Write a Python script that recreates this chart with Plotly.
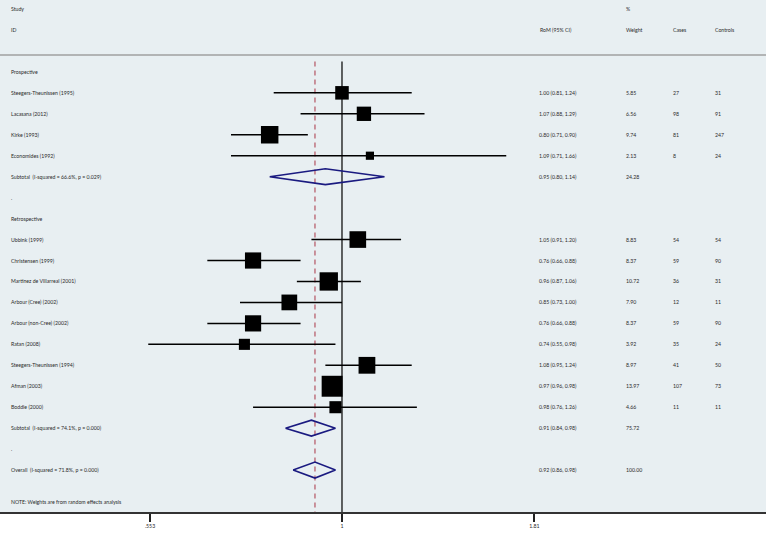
import plotly.graph_objects as go

# ---------------------------------------------------------------------------
# data
pro_names = ["Steegers-Theunissen (1995)", "Lacasana (2012)", "Kirke (1993)", "Economides (1992)"]
pro_es = [1.00, 1.07, 0.80, 1.09]
pro_lo = [0.81, 0.88, 0.71, 0.71]
pro_hi = [1.24, 1.29, 0.90, 1.66]
pro_wt = [5.85, 6.56, 9.74, 2.13]
pro_cases = [27, 98, 81, 8]
pro_controls = [31, 91, 247, 24]

ret_names = ["Ubbink (1999)", "Christensen (1999)", "Martinez de Villarreal (2001)",
             "Arbour (Cree) (2002)", "Arbour (non-Cree) (2002)", "Ratan (2008)",
             "Steegers-Theunissen (1994)", "Afman (2003)", "Boddie (2000)"]
ret_es = [1.05, 0.76, 0.96, 0.85, 0.76, 0.74, 1.08, 0.97, 0.98]
ret_lo = [0.91, 0.66, 0.87, 0.73, 0.66, 0.55, 0.95, 0.96, 0.76]
ret_hi = [1.20, 0.88, 1.06, 1.00, 0.88, 0.98, 1.24, 0.98, 1.26]
ret_wt = [8.83, 8.37, 10.72, 7.90, 8.37, 3.92, 8.97, 13.97, 4.66]
ret_cases = [54, 59, 36, 12, 59, 35, 41, 107, 11]
ret_controls = [54, 90, 31, 11, 90, 24, 50, 73, 11]

pooled_labels = ["Subtotal  (I-squared = 66.6%, p = 0.029)",
                 "Subtotal  (I-squared = 74.1%, p = 0.000)",
                 "Overall  (I-squared = 71.8%, p = 0.000)"]
pooled_es = [0.95, 0.91, 0.92]
pooled_lo = [0.80, 0.84, 0.86]
pooled_hi = [1.14, 0.98, 0.98]
pooled_wt = [24.28, 75.72, 100.00]

tick_vals = [0.553, 1, 1.81]
tick_text = [".553", "1", "1.81"]
note = "NOTE: Weights are from random effects analysis"

# ---------------------------------------------------------------------------
# style
bg = "#e8eff2"
txt_col = "#2a2a2a"
fnt = "Lato"
fs = 5.2
W = 766.0


def px(x):
    return x / W


# row layout (row index -> line of the table)
rows = []   # (row, label, es, lo, hi, wt, cases, controls, kind)
rows.append((0, "Prospective", None, None, None, None, None, None, "head"))
r = 1
for i in range(len(pro_names)):
    rows.append((r, pro_names[i], pro_es[i], pro_lo[i], pro_hi[i], pro_wt[i], pro_cases[i], pro_controls[i], "study"))
    r += 1
rows.append((r, pooled_labels[0], pooled_es[0], pooled_lo[0], pooled_hi[0], pooled_wt[0], None, None, "pool")); r += 1
rows.append((r, ".", None, None, None, None, None, None, "head")); r += 1
rows.append((r, "Retrospective", None, None, None, None, None, None, "head")); r += 1
for i in range(len(ret_names)):
    rows.append((r, ret_names[i], ret_es[i], ret_lo[i], ret_hi[i], ret_wt[i], ret_cases[i], ret_controls[i], "study"))
    r += 1
rows.append((r, pooled_labels[1], pooled_es[1], pooled_lo[1], pooled_hi[1], pooled_wt[1], None, None, "pool")); r += 1
rows.append((r, ".", None, None, None, None, None, None, "head")); r += 1
rows.append((r, pooled_labels[2], pooled_es[2], pooled_lo[2], pooled_hi[2], pooled_wt[2], None, None, "pool"))
overall_es = pooled_es[2]

fig = go.Figure()

# reference lines
fig.add_trace(go.Scatter(x=[overall_es, overall_es], y=[-0.5, 21.0], mode="lines",
                         line=dict(color="#b8606e", width=1.3, dash="5px,4px"),
                         hoverinfo="skip", showlegend=False))
fig.add_trace(go.Scatter(x=[1, 1], y=[-0.5, 21.0], mode="lines",
                         line=dict(color="#111111", width=1.3),
                         hoverinfo="skip", showlegend=False))

# CI lines and boxes
ci_x, ci_y, bx, by, bs = [], [], [], [], []
dx, dy = [], []
h = 0.38
for (rr, lab, es, lo, hi, wt, ca, co, kind) in rows:
    if kind == "study":
        ci_x += [lo, hi, None]
        ci_y += [rr, rr, None]
        bx.append(es)
        by.append(rr)
        bs.append(5.6 * wt ** 0.5)
    elif kind == "pool":
        dx += [lo, es, hi, es, lo, None]
        dy += [rr, rr - h, rr, rr + h, rr, None]

fig.add_trace(go.Scatter(x=ci_x, y=ci_y, mode="lines", line=dict(color="#000000", width=1.5),
                         hoverinfo="skip", showlegend=False))
fig.add_trace(go.Scatter(x=bx, y=by, mode="markers",
                         marker=dict(symbol="square", size=bs, color="#000000", opacity=1,
                                     line=dict(width=0)),
                         showlegend=False))
fig.add_trace(go.Scatter(x=dx, y=dy, mode="lines", line=dict(color="#1a1a80", width=1.6),
                         hoverinfo="skip", showlegend=False))

# text columns
ann = []


def add_text(x, y, s):
    ann.append(dict(x=px(x), y=y, xref="paper", yref="y", text=s, showarrow=False,
                    xanchor="left", yanchor="middle", font=dict(family=fnt, size=fs, color=txt_col)))


add_text(9, -3, "Study")
add_text(9, -2, "ID")
add_text(538, -2, "RoM (95% CI)")
add_text(624, -3, "%")
add_text(624, -2, "Weight")
add_text(671, -2, "Cases")
add_text(713, -2, "Controls")

for (rr, lab, es, lo, hi, wt, ca, co, kind) in rows:
    add_text(9, rr, lab)
    if es is not None:
        add_text(537, rr, "%.2f (%.2f, %.2f)" % (es, lo, hi))
        add_text(624, rr, "%.2f" % wt)
    if ca is not None:
        add_text(671, rr, str(ca))
        add_text(713, rr, str(co))

add_text(9, 20.5, note)

fig.update_layout(
    width=766, height=534,
    margin=dict(l=0, r=0, t=0, b=22),
    paper_bgcolor="#ffffff",
    plot_bgcolor=bg,
    annotations=ann,
    shapes=[dict(type="line", xref="paper", yref="y", x0=0, x1=1, y0=-0.8, y1=-0.8,
                 line=dict(color="#a0a0a0", width=1.5))],
    xaxis=dict(type="log", range=[-0.4583, 0.5682], tickvals=tick_vals, ticktext=tick_text,
               ticks="outside", ticklen=8, tickwidth=2, tickcolor="#222222",
               showline=True, linecolor="#333333", linewidth=2, showgrid=False, zeroline=False,
               tickfont=dict(family=fnt, size=fs, color=txt_col)),
    yaxis=dict(range=[21.0, -3.43], showticklabels=False, showgrid=False, zeroline=False, ticks=""),
)

# remove the default page margin so the figure fills the window
fig.write_html("out.html", config={"displayModeBar": False},
               post_script="document.body.style.margin='0';")
